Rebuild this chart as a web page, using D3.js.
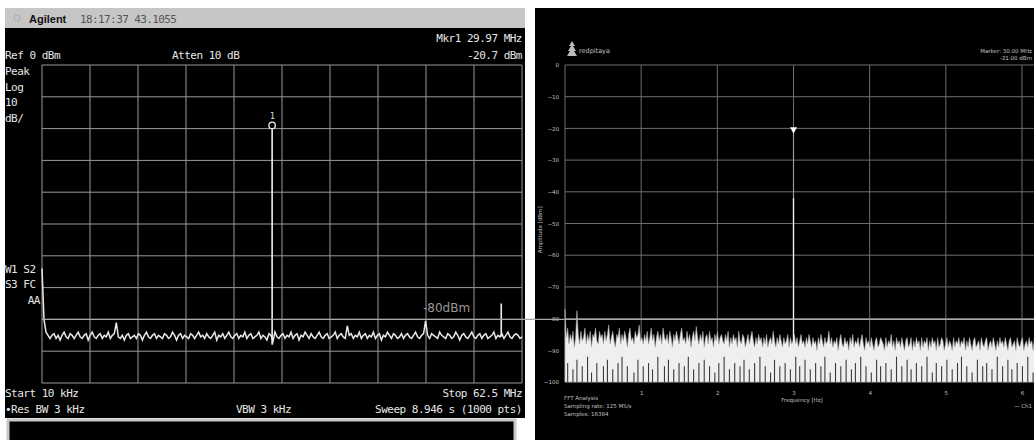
<!DOCTYPE html>
<html>
<head>
<meta charset="utf-8">
<script src="https://cdn.jsdelivr.net/npm/d3@7/dist/d3.min.js"></script>
<style>
  body { margin: 0; background: #fff; }
  svg { display: block; }
  .mono { font-family: "DejaVu Sans Mono", monospace; font-size: 11px; letter-spacing: -0.5px; fill: #e6e6e6; }
  .tiny { font-family: "DejaVu Sans", sans-serif; font-size: 5.5px; fill: #c0c0c0; }
</style>
</head>
<body>
<div id="chart"></div>
<script>
// left: Agilent analyzer trace, dBm, evenly spaced from start to stop
const leftStartMHz = 0.01;
const leftStopMHz = 62.5;
const leftNoise = [
  -64,-80,-84,-85,-86,-85,-84.5,-86,-85,-86.5,-85,-84,-85.5,-86,-84.5,-85,-86,-85,-84,-85.5,
  -86,-85,-84.5,-86.5,-85,-84,-85.5,-86,-85,-84.5,-86,-85,-85.5,-84,-86,-85,-84.5,-81,-85.5,-86,
  -85,-86.5,-85,-84.5,-86,-85.5,-85,-86,-84.5,-85,-86.5,-85,-84,-85.5,-86,-85,-84.5,-86,-85,-85.5,
  -86,-84.5,-85,-86,-85.5,-84,-85,-86.5,-85,-84.5,-86,-85,-85.5,-86,-84.5,-85,-86,-85,-84,-85.5,
  -85,-86,-84.5,-85.5,-86,-85,-84,-86.5,-85,-85.5,-84.5,-86,-85,-84,-85.5,-86,-85,-84.5,-86,-85,
  -85.5,-84,-86,-85,-84.5,-86,-85.5,-85,-84,-86,-85,-85.5,-86.5,-84.5,-85,-87,-84,-85.5,-86,-85,
  -84.5,-86,-85,-85.5,-84,-86,-85,-84.5,-86.5,-85,-85.5,-84,-85,-86,-84.5,-85.5,-86,-85,-84,-85.5,
  -86,-85,-84.5,-86,-85.5,-85,-84,-86,-85,-84.5,-85.5,-86,-82,-85,-84.5,-86,-85,-85.5,-84,-86,
  -85,-84.5,-86,-85,-85.5,-84,-86,-85,-84.5,-86.5,-85,-85.5,-84,-85,-86,-84.5,-85,-86,-85.5,-84.5,
  -86,-85,-84.5,-85.5,-86,-85,-84,-85.5,-86,-85,-84.5,-80.5,-85,-86,-84.5,-85,-85.5,-86,-84,-85,
  -85.5,-86,-84.5,-85,-86,-85.5,-84,-85,-86.5,-85,-84.5,-85.5,-86,-85,-84,-85.5,-86,-85,-84.5,-86,
  -85,-84.5,-86,-85.5,-85,-84,-86,-85,-85.5,-84.5,-86,-85,-84,-85.5,-86,-85,-84.5,-85,-86,-85.5
];
const leftSpurs = [
  { f: 29.97, dbm: -19 },
  { f: 59.8, dbm: -75 }
];
const leftMarker = { f: 29.97, dbm: -19, label: "1" };
const refLineDbm = -80;

// right: Red Pitaya FFT, per display column peak in dBm
const rightStopHz = 6.25e7;
const rightMax = [
  -77,-86,-83,-88,-85,-87,-84,-89,-86,-77.5,-85,-88,-84,-87,-86,-83,-88,-85,-87,-84,-89,-85,-86,-83,-87,-88,-84,-86,-85,-88,
  -84,-87,-85,-82,-88,-86,-84,-87,-89,-85,-86,-83,-88,-85,-87,-84,-86,-89,-85,-83,-87,-86,-88,-84,-86,-85,-82,-87,-86,-88,
  -85,-87,-84,-88,-86,-83,-87,-85,-89,-86,-84,-87,-85,-88,-83,-86,-87,-85,-88,-84,-86,-89,-85,-87,-84,-86,-88,-85,-83,-87,
  -86,-88,-84,-87,-85,-89,-86,-84,-87,-82.5,-86,-88,-85,-87,-84,-89,-86,-85,-88,-84,-87,-86,-89,-85,-87,-84,-88,-86,-85,-87,
  -88,-85,-87,-84,-89,-86,-88,-85,-87,-86,-89,-84,-87,-88,-85,-86,-89,-87,-85,-88,-86,-84,-87,-89,-86,-88,-85,-87,-86,-89,
  -86,-88,-85,-89,-87,-86,-88,-84,-87,-89,-86,-88,-85,-87,-89,-86,-88,-87,-85,-89,-86,-88,-87,-85,-88,-86,-89,-87,-85,-88,
  -87,-89,-86,-88,-85,-87,-89,-86,-88,-87,-90,-86,-88,-85,-87,-89,-86,-88,-87,-84,-88,-86,-89,-87,-88,-86,-90,-87,-85,-88,
  -89,-86,-88,-87,-90,-86,-88,-85,-89,-87,-88,-86,-89,-87,-85,-88,-90,-86,-88,-87,-89,-86,-88,-90,-87,-86,-89,-88,-86,-87,
  -88,-90,-86,-89,-87,-88,-85,-89,-87,-90,-86,-88,-87,-89,-86,-88,-90,-87,-86,-89,-88,-86,-90,-87,-89,-86,-88,-87,-90,-86,
  -89,-87,-88,-86,-90,-87,-89,-86,-88,-87,-90,-86,-89,-88,-86,-87,-90,-88,-86,-89,-87,-88,-90,-86,-89,-87,-88,-86,-89,-87,
  -88,-86,-90,-87,-89,-86,-88,-90,-87,-86,-89,-88,-87,-90,-86,-88,-89,-87,-86,-90,-88,-87,-89,-86,-88,-90,-87,-89,-86,-88,
  -87,-89,-86,-88,-90,-87,-86,-89,-88,-87,-90,-86,-88,-89,-87,-86,-90,-88,-87,-89,-86,-88,-87,-90,-86,-89,-88,-87,-89,-86
];
// [column, dBm] where the column minimum stays above the -100 dBm floor
const rightStreaks = [
  [2,-94],[6,-96],[9,-93],[13,-95],[17,-92],[20,-97],[24,-94],[29,-95],[32,-93],[36,-96],[40,-94],[43,-92],
  [47,-95],[52,-97],[55,-93],[59,-95],[63,-94],[66,-96],[70,-92],[75,-95],[78,-93],[82,-96],[86,-94],[90,-95],
  [93,-92],[97,-96],[101,-94],[105,-93],[109,-95],[113,-97],[116,-94],[120,-92],[124,-96],[128,-94],[132,-95],
  [135,-93],[139,-96],[143,-94],[147,-92],[151,-95],[155,-97],[158,-93],[162,-95],[166,-94],[170,-96],[174,-92],
  [177,-95],[181,-93],[185,-96],[189,-94],[193,-95],[196,-92],[200,-97],[204,-94],[208,-95],[212,-93],[216,-96],
  [219,-94],[223,-92],[227,-95],[231,-97],[235,-93],[238,-95],[242,-94],[246,-96],[250,-92],[254,-95],[258,-93],
  [261,-96],[265,-94],[269,-95],[273,-92],[277,-97],[280,-94],[284,-95],[288,-93],[292,-96],[296,-94],[299,-92],
  [303,-95],[307,-97],[311,-93],[315,-95],[318,-94],[322,-96],[326,-92],[330,-95],[334,-93],[337,-96],[341,-94],
  [345,-95],[349,-92],[353,-97],[356,-94]
];
const rightPeak = { f: 3.0e7, top: -20, bright: -42 };
const rightXTicks = [1e7, 2e7, 3e7, 4e7, 5e7, 6e7];
const rightXTickLabels = ["1", "2", "3", "4", "5", "6"];
const dbTicks = [0, -10, -20, -30, -40, -50, -60, -70, -80, -90, -100];

const svg = d3.select('#chart')
  .append('svg')
  .attr('width', 1034)
  .attr('height', 440);

// ---------- left panel ----------
svg.append('rect').attr('x', 5).attr('y', 8).attr('width', 520).attr('height', 20).attr('fill', '#c6c6c6');
svg.append('rect').attr('x', 5).attr('y', 28).attr('width', 520).attr('height', 390).attr('fill', '#000');
svg.append('rect').attr('x', 8).attr('y', 420).attr('width', 507).attr('height', 24)
  .attr('fill', '#000').attr('stroke', '#c8c8c8').attr('stroke-width', 3);

svg.append('circle').attr('cx', 17).attr('cy', 18).attr('r', 3)
  .attr('fill', 'none').attr('stroke', '#aaa').attr('stroke-width', 1);
svg.append('text').attr('x', 29).attr('y', 22.5)
  .style('font-family', 'Liberation Sans, sans-serif').style('font-size', '11px').style('font-weight', 'bold')
  .attr('fill', '#111').text('Agilent');
svg.append('text').attr('x', 80).attr('y', 22.5)
  .style('font-family', 'DejaVu Sans Mono, monospace').style('font-size', '11px').style('letter-spacing', '-0.6px')
  .attr('fill', '#555').text('18:17:37  43.1055');

const xL = d3.scaleLinear().domain([leftStartMHz, leftStopMHz]).range([42, 522]);
const yL = d3.scaleLinear().domain([0, -100]).range([65, 383]);

const gL = svg.append('g');
const leftGridX = d3.range(11).map(i => leftStartMHz + i * (leftStopMHz - leftStartMHz) / 10);
gL.selectAll('.vgl').data(leftGridX).enter().append('line')
  .attr('x1', d => xL(d)).attr('x2', d => xL(d))
  .attr('y1', yL(0)).attr('y2', yL(-100))
  .attr('stroke', '#9a9a9a').attr('stroke-width', 1);
gL.selectAll('.hgl').data(dbTicks).enter().append('line')
  .attr('x1', xL(leftStartMHz)).attr('x2', xL(leftStopMHz))
  .attr('y1', d => yL(d)).attr('y2', d => yL(d))
  .attr('stroke', '#9a9a9a').attr('stroke-width', 1);

const leftPts = leftNoise.map((v, i) => ({
  f: leftStartMHz + i * (leftStopMHz - leftStartMHz) / (leftNoise.length - 1), dbm: v
}));
gL.append('path')
  .datum(leftPts)
  .attr('d', d3.line().x(d => xL(d.f)).y(d => yL(d.dbm)))
  .attr('fill', 'none').attr('stroke', '#e8e8e8').attr('stroke-width', 1.5);

// spurs drawn from local noise floor up to their level
const floorAt = f => leftPts[Math.round((f - leftStartMHz) / (leftStopMHz - leftStartMHz) * (leftNoise.length - 1))].dbm;
gL.selectAll('.spur').data(leftSpurs).enter().append('line')
  .attr('x1', d => xL(d.f)).attr('x2', d => xL(d.f))
  .attr('y1', d => yL(floorAt(d.f)) + 3).attr('y2', d => yL(d.dbm))
  .attr('stroke', '#f0f0f0').attr('stroke-width', 1.6);

gL.append('circle').attr('cx', xL(leftMarker.f)).attr('cy', yL(leftMarker.dbm)).attr('r', 3.2)
  .attr('fill', '#000').attr('stroke', '#f0f0f0').attr('stroke-width', 1.3);
gL.append('text').attr('x', xL(leftMarker.f)).attr('y', yL(leftMarker.dbm) - 6)
  .attr('text-anchor', 'middle').attr('class', 'mono').style('font-size', '8px').text(leftMarker.label);

const leftTexts = [
  { t: 'Mkr1  29.97 MHz', x: 522, y: 42, a: 'end' },
  { t: 'Ref 0 dBm', x: 5, y: 59, a: 'start' },
  { t: 'Atten 10 dB', x: 172, y: 59, a: 'start' },
  { t: '-20.7 dBm', x: 522, y: 59, a: 'end' },
  { t: 'Peak', x: 5, y: 75, a: 'start' },
  { t: 'Log', x: 5, y: 91, a: 'start' },
  { t: '10', x: 5, y: 106, a: 'start' },
  { t: 'dB/', x: 5, y: 122, a: 'start' },
  { t: 'W1 S2', x: 5, y: 273, a: 'start' },
  { t: 'S3 FC', x: 5, y: 288, a: 'start' },
  { t: 'AA', x: 40, y: 304, a: 'end' },
  { t: 'Start 10 kHz', x: 5, y: 397, a: 'start' },
  { t: 'Stop 62.5 MHz', x: 522, y: 397, a: 'end' },
  { t: '\u2022Res BW 3 kHz', x: 5, y: 413, a: 'start' },
  { t: 'VBW 3 kHz', x: 236, y: 413, a: 'start' },
  { t: 'Sweep 8.946 s (1000 pts)', x: 522, y: 413, a: 'end' }
];
gL.selectAll('.lt').data(leftTexts).enter().append('text')
  .attr('class', 'mono')
  .attr('x', d => d.x).attr('y', d => d.y)
  .attr('text-anchor', d => d.a)
  .text(d => d.t);

// ---------- right panel ----------
svg.append('rect').attr('x', 535).attr('y', 8).attr('width', 499).attr('height', 432).attr('fill', '#000');

const xR = d3.scaleLinear().domain([0, 6e7]).range([565, 1022]);
const yR = d3.scaleLinear().domain([0, -100]).range([65, 382]);
const gR = svg.append('g');

gR.selectAll('.vgr').data([0].concat(rightXTicks)).enter().append('line')
  .attr('x1', d => xR(d)).attr('x2', d => xR(d))
  .attr('y1', yR(0)).attr('y2', yR(-100))
  .attr('stroke', '#6e6e6e').attr('stroke-width', 1);
gR.selectAll('.hgr').data(dbTicks).enter().append('line')
  .attr('x1', xR(0)).attr('x2', xR(rightStopHz))
  .attr('y1', d => yR(d)).attr('y2', d => yR(d))
  .attr('stroke', '#6e6e6e').attr('stroke-width', 1);

const colStep = rightStopHz / (rightMax.length - 1);
const rightPts = rightMax.map((v, i) => ({ f: i * colStep, hi: v }));
gR.append('path')
  .datum(rightPts)
  .attr('d', d3.area().x(d => xR(d.f)).y0(yR(-100)).y1(d => yR(d.hi)))
  .attr('fill', '#efefef').attr('stroke', '#a8a8a8').attr('stroke-width', 0.6);
gR.selectAll('.gap').data(rightStreaks).enter().append('line')
  .attr('x1', d => xR(d[0] * colStep)).attr('x2', d => xR(d[0] * colStep))
  .attr('y1', yR(-100)).attr('y2', d => yR(d[1]))
  .attr('stroke', '#3a3a3a').attr('stroke-width', 1.1);

gR.append('line')
  .attr('x1', xR(rightPeak.f)).attr('x2', xR(rightPeak.f))
  .attr('y1', yR(rightPeak.top)).attr('y2', yR(-88))
  .attr('stroke', '#9a9a9a').attr('stroke-width', 1.2);
gR.append('line')
  .attr('x1', xR(rightPeak.f)).attr('x2', xR(rightPeak.f))
  .attr('y1', yR(rightPeak.bright)).attr('y2', yR(-88))
  .attr('stroke', '#f2f2f2').attr('stroke-width', 1.3);
gR.append('path')
  .attr('d', d3.symbol().type(d3.symbolTriangle).size(22))
  .attr('transform', `translate(${xR(rightPeak.f)},${yR(rightPeak.top) + 1}) rotate(180)`)
  .attr('fill', '#fff');

// axes (labels only)
const ax = gR.append('g').attr('transform', `translate(0,${yR(-100) + 6})`)
  .call(d3.axisBottom(xR).tickValues(rightXTicks).tickFormat((d, i) => rightXTickLabels[i]).tickSize(0));
const ay = gR.append('g').attr('transform', `translate(${xR(0) - 3},0)`)
  .call(d3.axisLeft(yR).tickValues(dbTicks).tickSize(0));
[ax, ay].forEach(a => {
  a.select('.domain').remove();
  a.selectAll('text').attr('class', 'tiny');
});

gR.append('text').attr('class', 'tiny').attr('text-anchor', 'middle')
  .attr('transform', `translate(542,${yR(-52)}) rotate(-90)`).text('Amplitude [dBm]');
gR.append('text').attr('class', 'tiny').attr('x', 802).attr('y', 402).attr('text-anchor', 'middle').text('Frequency [Hz]');
gR.append('text').attr('class', 'tiny').attr('x', 564).attr('y', 400).text('FFT Analysis');
gR.append('text').attr('class', 'tiny').attr('x', 564).attr('y', 408).text('Sampling rate: 125 MS/s');
gR.append('text').attr('class', 'tiny').attr('x', 564).attr('y', 416).text('Samples: 16384');
gR.append('text').attr('class', 'tiny').attr('x', 1032).attr('y', 408).attr('text-anchor', 'end').text('\u2014 Ch1');
gR.append('text').attr('class', 'tiny').attr('x', 1032).attr('y', 53).attr('text-anchor', 'end').text('Marker: 30.00 MHz');
gR.append('text').attr('class', 'tiny').attr('x', 1032).attr('y', 60).attr('text-anchor', 'end').text('-21.00 dBm');
gR.append('text').attr('class', 'tiny').attr('x', 579).attr('y', 53).style('font-size', '6.5px').text('redpitaya');
// small logo
gR.append('path')
  .attr('d', 'M572,41 L575,46 L573,46 L576,51 L574,51 L577,56 L567,56 L570,51 L568,51 L571,46 L569,46 Z')
  .attr('fill', '#bbb');

// -80 dBm reference line spanning both panels
svg.append('line')
  .attr('x1', xL(leftStartMHz)).attr('x2', 1034)
  .attr('y1', yL(refLineDbm)).attr('y2', yL(refLineDbm))
  .attr('stroke', '#a8a8a8').attr('stroke-width', 1.2);
svg.append('text').attr('x', xL(leftGridX[8]) - 3).attr('y', yL(refLineDbm) - 7)
  .style('font-family', 'DejaVu Sans, sans-serif').style('font-size', '12px')
  .attr('fill', '#9a9a9a').text(refLineDbm + 'dBm');
</script>
</body>
</html>
